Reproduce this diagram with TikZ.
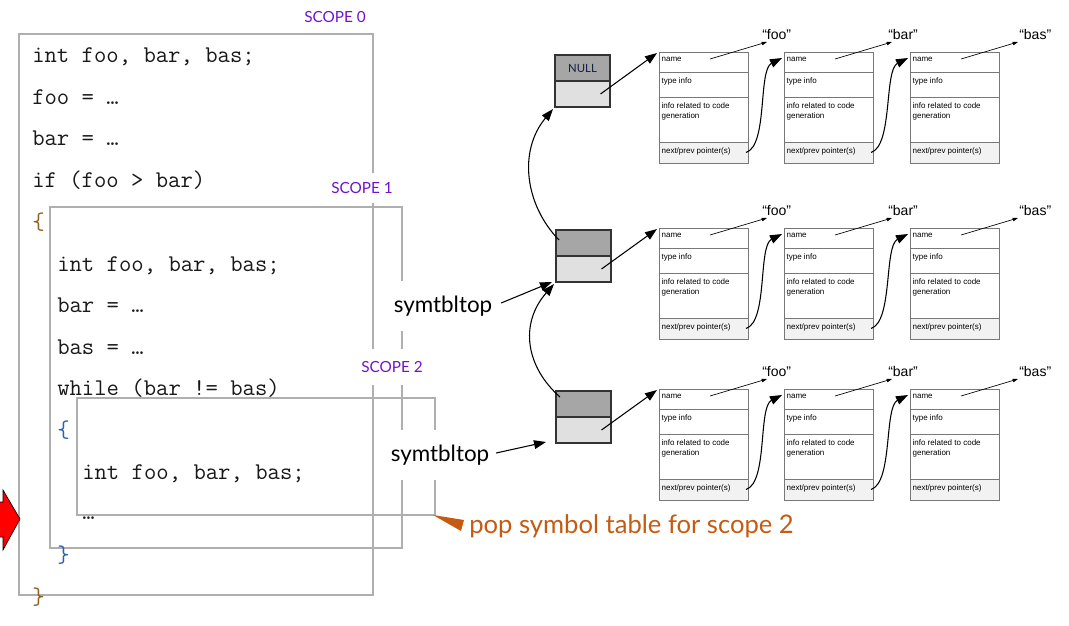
\documentclass[tikz,border=0pt]{standalone}
\usepackage{fontspec}
\setmainfont{Lato}
\newfontfamily\arialf{Liberation Sans}
\usetikzlibrary{arrows.meta,calc}
\definecolor{scopegray}{RGB}{175,175,175}
\definecolor{scopepurple}{RGB}{112,20,204}
\definecolor{popor}{RGB}{197,90,17}
\definecolor{dkg}{RGB}{166,166,166}
\definecolor{ltg}{RGB}{224,224,224}
\definecolor{recg}{RGB}{120,120,120}
\definecolor{nxt}{RGB}{242,242,242}
\definecolor{codec}{RGB}{25,25,25}
\definecolor{bracebr}{RGB}{140,95,35}
\definecolor{braceb}{RGB}{40,100,180}
\definecolor{nullc}{RGB}{20,30,70}
\tikzset{
  scopebox/.style={draw=scopegray, line width=0.9pt},
  code/.style={anchor=base west, inner sep=0pt, font=\ttfamily\fontsize{18}{21}\selectfont, text=codec},
  scopelbl/.style={font=\fontsize{11.5}{13}\selectfont, text=scopepurple, inner xsep=2pt},
  stlbl/.style={font=\fontsize{16.8}{19}\selectfont, fill=white, inner xsep=2pt, inner ysep=11pt},
  poplbl/.style={font=\fontsize{19.2}{22}\selectfont, text=popor, inner sep=0pt},
  stk/.style={draw=black!80, line width=1.4pt, anchor=north west, minimum width=41.25pt, minimum height=19.5pt, inner sep=0pt, outer sep=0pt},
  rc/.style={draw=recg, line width=0.6pt, anchor=north west, minimum width=66.75pt, inner sep=0pt, outer sep=0pt, fill=white},
  rt/.style={anchor=north west, font=\arialf\fontsize{6}{7.4}\selectfont, inner sep=1pt, align=left},
  qt/.style={anchor=base west, font=\arialf\fontsize{10.5}{12}\selectfont, inner sep=0pt},
  bigarr/.style={line width=0.8pt, -{Triangle[length=9pt,width=6.5pt]}},
  smallarr/.style={line width=0.5pt, -{Triangle[length=4pt,width=2.6pt]}},
}
\newcommand\rec[5]{%
  \node[rc, minimum height=15pt] (#1n) at (#2,#3) {};
  \node[rc, minimum height=18.75pt] (#1t) at (#1n.south west) {};
  \node[rc, minimum height=33.75pt] (#1i) at (#1t.south west) {};
  \node[rc, fill=nxt, minimum height=15.75pt] (#1p) at (#1i.south west) {};
  \node[rt] at ([shift={(1,4)}]#1n.north west) {name};
  \node[rt] at ([shift={(1,4)}]#1t.north west) {type info};
  \node[rt] at ([shift={(1,4)}]#1i.north west) {info related to code\\generation};
  \node[rt] at ([shift={(1,4)}]#1p.north west) {next/prev pointer(s)};
  \node[qt] (#1q) at ([shift={(#5,-13)}]#1n.north west) {#4};
  \draw[smallarr] ([shift={(51,7)}]#1n.north west) -- ([shift={(108,-10)}]#1n.north west);
}
\begin{document}
\begin{tikzpicture}[x=0.75pt,y=-0.75pt]
\useasboundingbox (0,0) rectangle (1069,625);
% scope boxes
\draw[scopebox] (19,34) rectangle (373,595);
\draw[scopebox] (50,207) rectangle (402,548);
\draw[scopebox] (77,398) rectangle (435,515);
% code
\node[code] (c1) at (32,62) {int foo, bar, bas;};
\node[code] (c2) at (32,104) {foo = …};
\node[code] (c3) at (32,145) {bar = …};
\node[code] (c4) at (32,187) {if (foo > bar)};
\node[code, text=bracebr] (c5) at (32,229) {\{};
\node[code] (c6) at (57,271) {int foo, bar, bas;};
\node[code] (c7) at (57,312) {bar = …};
\node[code] (c8) at (57,354) {bas = …};
\node[code] (c9) at (57,395) {while (bar != bas)};
\node[code, text=braceb] (c10) at (57,437) {\{};
\node[code] (c11) at (82,479) {int foo, bar, bas;};
\node[code] (c12) at (82,519) {…};
\node[code, text=braceb] (c13) at (57,562) {\}};
\node[code, text=bracebr] (c14) at (32,604) {\}};
% scope labels
\node[scopelbl] (s0) at (335,17) {SCOPE 0};
\node[scopelbl, fill=white, inner ysep=7.4pt] (s1) at (362,188) {SCOPE 1};
\node[scopelbl, fill=white, inner ysep=9pt] (s2) at (392,367) {SCOPE 2};
% red arrow
\draw[fill=red, draw=black, line width=0.5pt] (-6,502) -- (3,502) -- (3,490) -- (20,519) -- (3,550) -- (3,537) -- (-6,537);
% stack boxes
\node[stk, fill=dkg, font=\fontsize{8.5}{9}\selectfont, text=nullc] (sat) at (555,55) {NULL};
\node[stk, fill=ltg] (sab) at (sat.south west) {};
\node[stk, fill=dkg] (sbt) at (556,230) {};
\node[stk, fill=ltg] (sbb) at (sbt.south west) {};
\node[stk, fill=dkg] (sct) at (556,391) {};
\node[stk, fill=ltg] (scb) at (sct.south west) {};
% records
\rec{ra1}{659}{52}{“foo”}{103}
\rec{ra2}{784}{52}{“bar”}{104}
\rec{ra3}{910}{52}{“bas”}{109}
\rec{rb1}{659}{228}{“foo”}{103}
\rec{rb2}{784}{228}{“bar”}{104}
\rec{rb3}{910}{228}{“bas”}{109}
\rec{rc1}{659}{389}{“foo”}{103}
\rec{rc2}{784}{389}{“bar”}{104}
\rec{rc3}{910}{389}{“bas”}{109}
% next pointers
\foreach \r in {a,b,c}{
  \draw[bigarr] ([xshift=-1.5pt]r\r1p.east) .. controls +(22,-7) and +(-24,12) .. ([shift={(-2,6)}]r\r2n.north west);
  \draw[bigarr] ([xshift=-1.5pt]r\r2p.east) .. controls +(22,-7) and +(-24,12) .. ([shift={(-2,6)}]r\r3n.north west);
}
% stack to records
\draw[bigarr] ([shift={(18,0)}]sab.center) -- ([shift={(-2,1)}]ra1n.north west);
\draw[bigarr] ([shift={(18,0)}]sbb.center) -- ([shift={(-2,1)}]rb1n.north west);
\draw[bigarr] ([shift={(18,0)}]scb.center) -- ([shift={(-2,1)}]rc1n.north west);
% stack links
\draw[bigarr] ([shift={(3,10)}]sbt.north west) .. controls +(-34,-35) and +(-35,42) .. ([shift={(-2,2)}]sab.south west);
\draw[bigarr] ([shift={(4,6)}]sct.north west) .. controls +(-34,-30) and +(-35,40) .. ([shift={(-2,2)}]sbb.south west);
% symtbltop labels
\node[stlbl] (st1) at (443,306) {symtbltop};
\node[stlbl] (st2) at (440,455) {symtbltop};
\draw[bigarr] ([shift={(6,-3)}]st1.east) -- ([shift={(-4,0)}]sbb.south west);
\draw[bigarr] ([shift={(4,-2)}]st2.east) -- ([shift={(-10,-1)}]scb.south west);
% pop label
\fill[popor] (433,515) -- (464,520) -- (461,531) -- cycle;
\node[poplbl, anchor=west] (pop) at (469,526) {pop symbol table for scope 2};
\end{tikzpicture}
\end{document}
